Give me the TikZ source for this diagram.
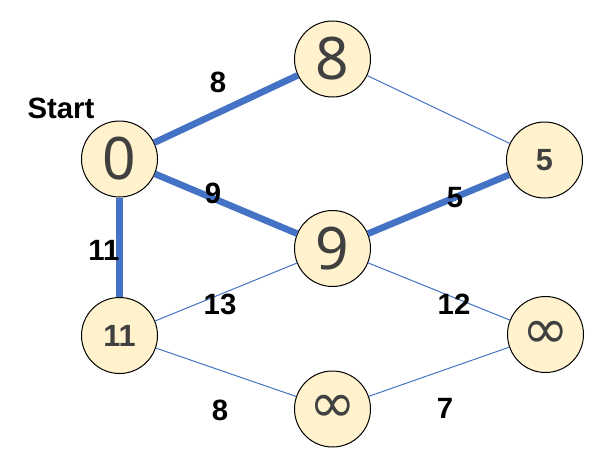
\documentclass[tikz,border=0pt]{standalone}
\usepackage{fontspec}
\setmainfont{Noto Sans}
\newfontfamily\symfont{DejaVu Sans}
\newfontfamily\labelfont{Liberation Sans}
\usepackage{xcolor}
\usepackage{tikz}
\usetikzlibrary{arrows.meta,positioning,calc}
\definecolor{nodefill}{HTML}{FFF2CC}
\definecolor{pathblue}{HTML}{4472C4}
\definecolor{numgray}{HTML}{404040}

\begin{document}
\begin{tikzpicture}[x=0.75pt,y=-0.75pt]
\tikzstyle{vertex}=[draw=black, circle, line width=0.75pt, fill=nodefill, minimum size=57pt, inner sep=0pt, text=numgray]
\tikzstyle{bignum}=[font=\fontsize{44}{44}\selectfont]
\tikzstyle{smallnum}=[font=\labelfont\bfseries\fontsize{23}{23}\selectfont]
\tikzstyle{infnum}=[font=\symfont\fontsize{42}{42}\selectfont]
\tikzstyle{weight}=[font=\labelfont\bfseries\fontsize{22}{22}\selectfont]
\tikzstyle{tree}=[draw=pathblue, line width=5pt]
\tikzstyle{edge}=[draw=pathblue, line width=0.75pt]
\useasboundingbox (0,0) rectangle (609,460);
\node[vertex, bignum] (a) at (119.5,159) {0};
\node[vertex, bignum] (b) at (332.5,59) {8};
\node[vertex, smallnum] (c) at (544.5,160) {5};
\node[vertex, bignum] (d) at (332.5,248.5) {9};
\node[vertex, smallnum] (e) at (119.5,335.5) {11};
\node[vertex, infnum] (f) at (332.5,409) {∞};
\node[vertex, infnum] (g) at (545.5,334.5) {∞};
\node[weight] (start) at (61,108) {Start};
% shortest path tree
\draw[tree] (a) -- (b);
\draw[tree] (a) -- (d);
\draw[tree] (a) -- (e);
\draw[tree] (d) -- (c);
% other edges
\draw[edge] (b) -- (c);
\draw[edge] (d) -- (e);
\draw[edge] (d) -- (g);
\draw[edge] (e) -- (f);
\draw[edge] (f) -- (g);
% weights
\node[weight] (wab) at (218,82) {8};
\node[weight] (wad) at (213,193) {9};
\node[weight] (wae) at (104,250) {11};
\node[weight] (wdc) at (455,198) {5};
\node[weight] (wde) at (220,304) {13};
\node[weight] (wdg) at (454,304) {12};
\node[weight] (wef) at (220,410) {8};
\node[weight] (wfg) at (445,408) {7};
\end{tikzpicture}
\end{document}
